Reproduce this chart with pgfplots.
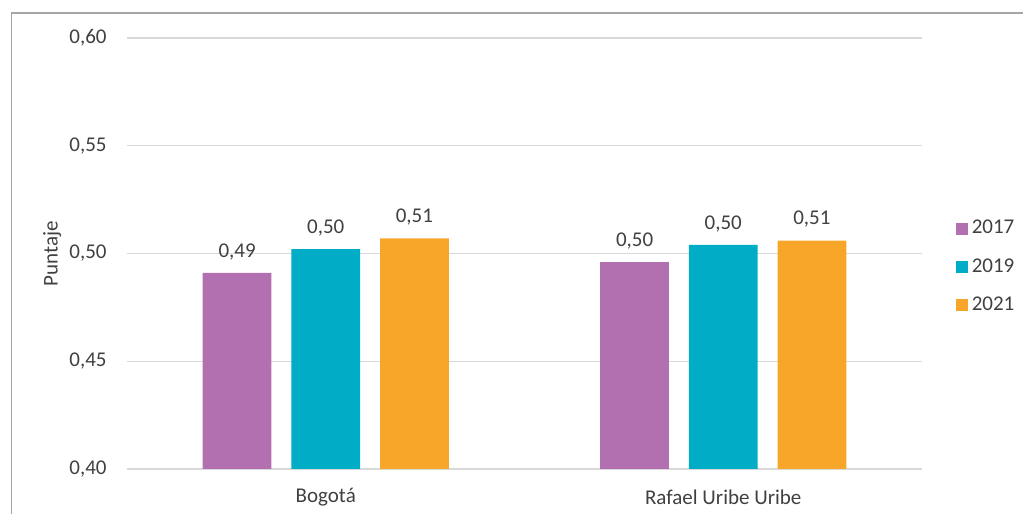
\documentclass[border=0pt]{standalone}
\usepackage{pgfplots}
\pgfplotsset{compat=1.18}
\usepackage{fontspec}
\setmainfont{Carlito}
\definecolor{c17}{HTML}{B370B0}
\definecolor{c19}{HTML}{00ACC6}
\definecolor{c21}{HTML}{F8A629}
\definecolor{gridc}{HTML}{D9D9D9}
\definecolor{txt}{HTML}{404040}
\begin{document}
\begin{tikzpicture}[x=1pt,y=1pt]
\useasboundingbox (0,0) rectangle (511.5,257);
\draw[black!35, line width=0.7pt] (5.75,-5) -- (5.75,250.5) -- (520,250.5);
\begin{axis}[
  at={(63.5pt,22.5pt)}, anchor=south west,
  scale only axis, width=397.5pt, height=215.5pt,
  ybar, bar width=0.173,
  xmin=-0.5, xmax=1.5, ymin=0.4, ymax=0.6,
  xtick={0,1}, xticklabels={Bogotá, Rafael Uribe Uribe},
  ytick={0.4,0.45,0.5,0.55,0.6},
  axis line style={draw=none},
  major tick length=0pt,
  ymajorgrids, grid style={draw=gridc, line width=0.6pt},
  font=\fontsize{10.5}{12.6}\selectfont,
  tick label style={text=txt},
  /pgf/number format/assume math mode=true,
  yticklabel style={/pgf/number format/fixed, /pgf/number format/fixed zerofill, /pgf/number format/precision=2, /pgf/number format/use comma, anchor=east, inner sep=0pt, xshift=-10pt},
  xticklabel style={anchor=center, inner sep=0pt, yshift=-14pt},
  ylabel={Puntaje}, ylabel style={at={(axis description cs:-0.094,0.5)}, anchor=center, text=txt},
  nodes near coords,
  nodes near coords style={text=txt, /pgf/number format/fixed, /pgf/number format/fixed zerofill, /pgf/number format/precision=2, /pgf/number format/use comma, /pgf/number format/assume math mode=true},
  every node near coord/.append style={yshift=3pt},
  legend style={draw=none, fill=none, at={(axis description cs:1.042,0.469)}, anchor=west, inner sep=0pt, row sep=6.8pt, font=\fontsize{10.5}{12.6}\selectfont, text=txt, legend cell align=left},
  legend image code/.code={\fill[#1] (0pt,-3pt) rectangle (6pt,3pt);},
]
\addplot[fill=c17, draw=none, bar shift=-0.223] coordinates {(0,0.491) (1,0.496)};
\addplot[fill=c19, draw=none, bar shift=0] coordinates {(0,0.502) (1,0.504)};
\addplot[fill=c21, draw=none, bar shift=0.223] coordinates {(0,0.507) (1,0.506)};
\legend{2017,2019,2021}
\end{axis}
\end{tikzpicture}
\end{document}
